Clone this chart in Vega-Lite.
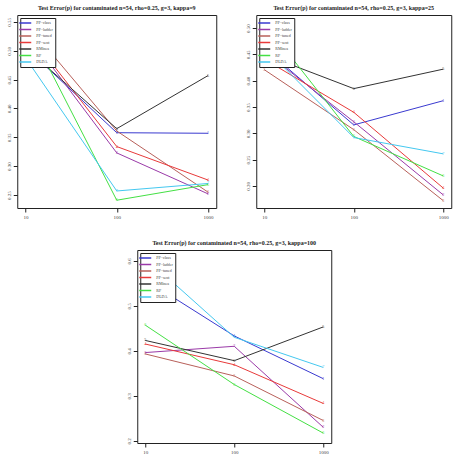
{
  "$schema": "https://vega.github.io/schema/vega-lite/v6.json",
  "padding": {"left": 5, "top": 4, "right": 5, "bottom": 5},
  "background": "white",
  "datasets": {
    "p1": [
      {"method": "PP−class", "pch": "1", "n": 10, "err": 0.506},
      {"method": "PP−class", "pch": "1", "n": 100, "err": 0.358},
      {"method": "PP−class", "pch": "1", "n": 1000, "err": 0.357},
      {"method": "PP−ladder", "pch": "2", "n": 10, "err": 0.534},
      {"method": "PP−ladder", "pch": "2", "n": 100, "err": 0.323},
      {"method": "PP−ladder", "pch": "2", "n": 1000, "err": 0.252},
      {"method": "PP−tuned", "pch": "3", "n": 10, "err": 0.549},
      {"method": "PP−tuned", "pch": "3", "n": 100, "err": 0.361},
      {"method": "PP−tuned", "pch": "3", "n": 1000, "err": 0.255},
      {"method": "PP−sent", "pch": "4", "n": 10, "err": 0.537},
      {"method": "PP−sent", "pch": "4", "n": 100, "err": 0.334},
      {"method": "PP−sent", "pch": "4", "n": 1000, "err": 0.276},
      {"method": "RMinea", "pch": "5", "n": 10, "err": 0.505},
      {"method": "RMinea", "pch": "5", "n": 100, "err": 0.365},
      {"method": "RMinea", "pch": "5", "n": 1000, "err": 0.457},
      {"method": "RF", "pch": "6", "n": 10, "err": 0.550},
      {"method": "RF", "pch": "6", "n": 100, "err": 0.241},
      {"method": "RF", "pch": "6", "n": 1000, "err": 0.268},
      {"method": "DLDA", "pch": "7", "n": 10, "err": 0.488},
      {"method": "DLDA", "pch": "7", "n": 100, "err": 0.257},
      {"method": "DLDA", "pch": "7", "n": 1000, "err": 0.270}
    ],
    "p2": [
      {"method": "PP−class", "pch": "1", "n": 10, "err": 0.462},
      {"method": "PP−class", "pch": "1", "n": 100, "err": 0.316},
      {"method": "PP−class", "pch": "1", "n": 1000, "err": 0.362},
      {"method": "PP−ladder", "pch": "2", "n": 10, "err": 0.456},
      {"method": "PP−ladder", "pch": "2", "n": 100, "err": 0.322},
      {"method": "PP−ladder", "pch": "2", "n": 1000, "err": 0.183},
      {"method": "PP−tuned", "pch": "3", "n": 10, "err": 0.421},
      {"method": "PP−tuned", "pch": "3", "n": 100, "err": 0.307},
      {"method": "PP−tuned", "pch": "3", "n": 1000, "err": 0.172},
      {"method": "PP−sent", "pch": "4", "n": 10, "err": 0.441},
      {"method": "PP−sent", "pch": "4", "n": 100, "err": 0.340},
      {"method": "PP−sent", "pch": "4", "n": 1000, "err": 0.196},
      {"method": "RMinea", "pch": "5", "n": 10, "err": 0.450},
      {"method": "RMinea", "pch": "5", "n": 100, "err": 0.385},
      {"method": "RMinea", "pch": "5", "n": 1000, "err": 0.422},
      {"method": "RF", "pch": "6", "n": 10, "err": 0.510},
      {"method": "RF", "pch": "6", "n": 100, "err": 0.294},
      {"method": "RF", "pch": "6", "n": 1000, "err": 0.219},
      {"method": "DLDA", "pch": "7", "n": 10, "err": 0.463},
      {"method": "DLDA", "pch": "7", "n": 100, "err": 0.292},
      {"method": "DLDA", "pch": "7", "n": 1000, "err": 0.261}
    ],
    "p3": [
      {"method": "PP−class", "pch": "1", "n": 10, "err": 0.558},
      {"method": "PP−class", "pch": "1", "n": 100, "err": 0.433},
      {"method": "PP−class", "pch": "1", "n": 1000, "err": 0.338},
      {"method": "PP−ladder", "pch": "2", "n": 10, "err": 0.396},
      {"method": "PP−ladder", "pch": "2", "n": 100, "err": 0.410},
      {"method": "PP−ladder", "pch": "2", "n": 1000, "err": 0.230},
      {"method": "PP−tuned", "pch": "3", "n": 10, "err": 0.393},
      {"method": "PP−tuned", "pch": "3", "n": 100, "err": 0.344},
      {"method": "PP−tuned", "pch": "3", "n": 1000, "err": 0.245},
      {"method": "PP−sent", "pch": "4", "n": 10, "err": 0.415},
      {"method": "PP−sent", "pch": "4", "n": 100, "err": 0.369},
      {"method": "PP−sent", "pch": "4", "n": 1000, "err": 0.283},
      {"method": "RMinea", "pch": "5", "n": 10, "err": 0.423},
      {"method": "RMinea", "pch": "5", "n": 100, "err": 0.378},
      {"method": "RMinea", "pch": "5", "n": 1000, "err": 0.453},
      {"method": "RF", "pch": "6", "n": 10, "err": 0.457},
      {"method": "RF", "pch": "6", "n": 100, "err": 0.325},
      {"method": "RF", "pch": "6", "n": 1000, "err": 0.217},
      {"method": "DLDA", "pch": "7", "n": 10, "err": 0.607},
      {"method": "DLDA", "pch": "7", "n": 100, "err": 0.430},
      {"method": "DLDA", "pch": "7", "n": 1000, "err": 0.363}
    ]
  },
  "config": {
    "font": "Liberation Serif",
    "view": {"stroke": "#222", "strokeWidth": 1},
    "title": {"fontSize": 6, "fontWeight": "bold", "font": "Liberation Serif", "offset": 4, "color": "#222"},
    "axis": {"domain": false, "grid": false, "tickColor": "#222", "tickSize": 4, "labelFontSize": 5, "labelFont": "Liberation Serif", "labelColor": "#444", "labelPadding": 2, "title": null},
    "axisY": {"labelAngle": -90},
    "axisX": {"labelAngle": 0},
    "legend": {"orient": "top-left", "offset": 3, "padding": 2, "strokeColor": "#222", "fillColor": "white", "labelFontSize": 4, "labelFont": "Liberation Serif", "labelColor": "#444", "symbolType": "M-3,0H3", "symbolStrokeWidth": 1.5, "symbolSize": 16, "rowPadding": 0.5, "title": null, "labelOffset": 8, "labelLimit": 60}
  },
  "resolve": {"scale": {"color": "independent", "x": "independent", "y": "independent"}, "legend": {"color": "independent"}},
  "center": true,
  "spacing": 19,
  "vconcat": [
    {
      "spacing": 27,
      "resolve": {"scale": {"color": "independent", "x": "independent", "y": "independent"}, "legend": {"color": "independent"}},
      "hconcat": [
        {
          "width": 199, "height": 193,
          "title": "Test Error(p) for contaminated n=54, rho=0.25, g=3, kappa=9",
          "data": {"name": "p1"},
          "encoding": {
            "x": {"field": "n", "type": "ordinal", "scale": {"type": "point", "padding": 0.09}},
            "y": {"field": "err", "type": "quantitative", "scale": {"domain": [0.2275, 0.562], "nice": false, "zero": false}, "axis": {"values": [0.25, 0.3, 0.35, 0.4, 0.45, 0.5, 0.55], "format": ".2f"}},
            "color": {"field": "method", "type": "nominal", "scale": {"domain": ["PP−class", "PP−ladder", "PP−tuned", "PP−sent", "RMinea", "RF", "DLDA"], "range": ["#3a3ad0", "#9a3aa8", "#b8605a", "#e83a3a", "#333333", "#44e044", "#44c8f0"]}}
          },
          "layer": [
            {"mark": {"type": "line", "strokeWidth": 1}},
            {"mark": {"type": "text", "fontSize": 4}, "encoding": {"text": {"field": "pch"}}}
          ]
        },
        {
          "width": 195, "height": 193,
          "title": "Test Error(p) for contaminated n=54, rho=0.25, g=3, kappa=25",
          "data": {"name": "p2"},
          "encoding": {
            "x": {"field": "n", "type": "ordinal", "scale": {"type": "point", "padding": 0.09}},
            "y": {"field": "err", "type": "quantitative", "scale": {"domain": [0.158, 0.525], "nice": false, "zero": false}, "axis": {"values": [0.2, 0.25, 0.3, 0.35, 0.4, 0.45, 0.5], "format": ".2f"}},
            "color": {"field": "method", "type": "nominal", "scale": {"domain": ["PP−class", "PP−ladder", "PP−tuned", "PP−sent", "RMinea", "RF", "DLDA"], "range": ["#3a3ad0", "#9a3aa8", "#b8605a", "#e83a3a", "#333333", "#44e044", "#44c8f0"]}}
          },
          "layer": [
            {"mark": {"type": "line", "strokeWidth": 1}},
            {"mark": {"type": "text", "fontSize": 4}, "encoding": {"text": {"field": "pch"}}}
          ]
        }
      ]
    },
    {
      "width": 194, "height": 193,
      "title": "Test Error(p) for contaminated n=54, rho=0.25, g=3, kappa=100",
      "data": {"name": "p3"},
      "encoding": {
        "x": {"field": "n", "type": "ordinal", "scale": {"type": "point", "padding": 0.09}},
        "y": {"field": "err", "type": "quantitative", "scale": {"domain": [0.195, 0.624], "nice": false, "zero": false}, "axis": {"values": [0.2, 0.3, 0.4, 0.5, 0.6], "format": ".1f"}},
        "color": {"field": "method", "type": "nominal", "scale": {"domain": ["PP−class", "PP−ladder", "PP−tuned", "PP−sent", "RMinea", "RF", "DLDA"], "range": ["#3a3ad0", "#9a3aa8", "#b8605a", "#e83a3a", "#333333", "#44e044", "#44c8f0"]}}
      },
      "layer": [
        {"mark": {"type": "line", "strokeWidth": 1}},
        {"mark": {"type": "text", "fontSize": 4}, "encoding": {"text": {"field": "pch"}}}
      ]
    }
  ]
}
